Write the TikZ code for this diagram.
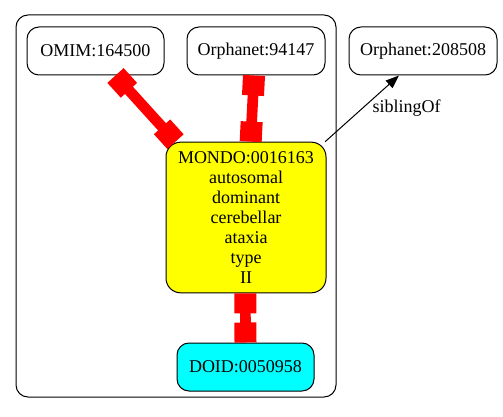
\documentclass[tikz,border=0pt]{standalone}
\usepackage{fontspec}
\setmainfont{Liberation Serif}
\usetikzlibrary{arrows.meta}
\definecolor{termyellow}{RGB}{255,255,0}
\definecolor{termcyan}{RGB}{0,255,255}
\definecolor{teered}{RGB}{255,0,0}

\begin{document}
\begin{tikzpicture}[x=0.75pt, y=-0.75pt, font=\fontsize{13.5}{15}\selectfont,
	termbox/.style={draw, rounded corners=9pt, line width=0.75pt, align=center, inner sep=0pt, minimum height=36pt},
	teeedge/.style={teered, line width=8pt, {Rectangle[length=15pt, width=16.5pt]}-{Rectangle[length=15pt, width=16.5pt]}},
	relarrow/.style={black, line width=0.75pt, -{Triangle[length=10pt, width=7.5pt]}}]
	\useasboundingbox (0,0) rectangle (503,417);
	% cluster round the main term
	\draw[line width=0.75pt, rounded corners=9pt] (16,15) rectangle (336,397);
	\node[termbox, minimum width=102.75pt] (omim) at (95.5,51) {OMIM:164500};
	\node[termbox, minimum width=103.5pt] (orpha1) at (256,51) {Orphanet:94147};
	\node[termbox, minimum width=111pt] (orpha2) at (423,51) {Orphanet:208508};
	\node[termbox, fill=termyellow, minimum width=120pt, minimum height=113pt, rounded corners=11pt] (mondo) at (246,217.5)
		{MONDO:0016163\\autosomal\\dominant\\cerebellar\\ataxia\\type\\II};
	\node[termbox, fill=termcyan, minimum width=102.75pt] (doid) at (245.5,367) {DOID:0050958};
	% equivalence edges
	\draw[teeedge] ([xshift=15pt]omim.south) -- ([xshift=7.5pt]mondo.north west);
	\draw[teeedge] ([xshift=-1.5pt]orpha1.south) -- ([xshift=3.5pt]mondo.north);
	\draw[teeedge] ([xshift=-0.5pt]mondo.south) -- (doid.north);
	% sibling relation
	\draw[relarrow] ([xshift=-1pt]mondo.north east) -- ([xshift=-18pt]orpha2.south) node[pos=0.5, right=7.5pt, inner sep=0pt] {siblingOf};
\end{tikzpicture}
\end{document}
